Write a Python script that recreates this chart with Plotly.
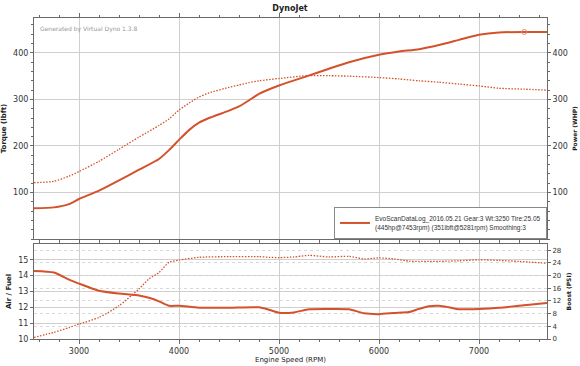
import plotly.graph_objects as go

# ---- Data ----
rpm_pw = [2550, 2750, 2900, 3000, 3200, 3400, 3600, 3800, 3900, 4000, 4100, 4200, 4300,
          4500, 4600, 4700, 4800, 5000, 5281, 5500, 5700, 6000, 6200, 6400, 6600, 6800,
          7000, 7200, 7453, 7680]
power = [66, 68, 75, 86, 104, 126, 149, 172, 191, 213, 234, 250, 260,
         276, 285, 298, 312, 330, 350, 366, 380, 396, 403, 408, 417, 428,
         439, 444, 445, 445]
torque = [121, 124, 135, 145, 167, 193, 219, 244, 258, 277, 292, 305, 314,
          326, 331, 336, 340, 345, 351, 351, 350, 347, 344, 340, 337, 333,
          329, 324, 322, 320]

rpm_lo = [2550, 2750, 2900, 3000, 3200, 3400, 3600, 3700, 3800, 3900, 4000, 4200, 4500,
          4800, 4900, 5000, 5150, 5300, 5500, 5700, 5850, 6000, 6150, 6300, 6400, 6500,
          6600, 6700, 6800, 7000, 7200, 7400, 7680]
afr = [14.3, 14.2, 13.75, 13.5, 13.05, 12.87, 12.75, 12.6, 12.38, 12.1, 12.1, 11.98, 11.98,
       12.0, 11.85, 11.66, 11.68, 11.88, 11.9, 11.88, 11.62, 11.57, 11.64, 11.7, 11.9, 12.07,
       12.1, 12.0, 11.88, 11.9, 11.97, 12.1, 12.28]
boost = [0.5, 2.1, 3.6, 4.7, 6.8, 10.5, 15.8, 19.0, 21.0, 24.2, 24.9, 25.8, 26.0,
         26.0, 25.8, 25.7, 25.9, 26.4, 25.9, 26.1, 25.3, 25.6, 25.3, 24.6, 24.5, 24.5,
         24.5, 24.6, 24.7, 25.0, 24.8, 24.5, 23.9]

peak_rpm = [7453]
peak_hp = [445]

x_ticks = [3000, 4000, 5000, 6000, 7000]
tq_ticks = [100, 200, 300, 400]
afr_ticks = [10, 11, 12, 13, 14, 15]
boost_ticks = [0, 4, 8, 12, 16, 20, 24, 28]

legend_name = ("EvoScanDataLog_2016.05.21 Gear:3 Wt:3250 Tire:25.05<br>"
               "(445hp@7453rpm) (351lbft@5281rpm) Smoothing:3")

RED = "#d4522b"
GRID = "#cfcfcf"
AX = "#6a6a6a"
FONT = "DejaVu Sans"
DOT = "1.5px,1.5px"

fig = go.Figure()

fig.add_trace(go.Scatter(x=rpm_pw, y=power, mode="lines", name=legend_name,
                         line=dict(color=RED, width=2, shape="spline", smoothing=0.6),
                         xaxis="x2", yaxis="y4", showlegend=True))
fig.add_trace(go.Scatter(x=rpm_pw, y=torque, mode="lines", name="Torque",
                         line=dict(color=RED, width=1.3, dash=DOT, shape="spline", smoothing=0.6),
                         xaxis="x2", yaxis="y3", showlegend=False))
fig.add_trace(go.Scatter(x=peak_rpm, y=peak_hp, mode="markers", name="peak",
                         marker=dict(symbol="circle-open", size=5, color="#e08a70", line=dict(width=1)),
                         xaxis="x2", yaxis="y4", showlegend=False))
fig.add_trace(go.Scatter(x=rpm_lo, y=afr, mode="lines", name="AFR",
                         line=dict(color=RED, width=2, shape="spline", smoothing=0.6),
                         xaxis="x", yaxis="y", showlegend=False))
fig.add_trace(go.Scatter(x=rpm_lo, y=boost, mode="lines", name="Boost",
                         line=dict(color=RED, width=1.3, dash=DOT, shape="spline", smoothing=0.6),
                         xaxis="x", yaxis="y2", showlegend=False))

tickfont = dict(family=FONT, size=8, color="#333333")
titlefont = dict(family=FONT, size=7, color="#222222")

common_x = dict(range=[2550, 7680], tickvals=x_ticks, showgrid=True, gridcolor=GRID,
                gridwidth=1, showline=True, linecolor=AX, linewidth=1, mirror="ticks",
                ticks="outside", ticklen=4, tickcolor=AX, zeroline=False, automargin=False,
                minor=dict(dtick=200, ticks="outside", ticklen=2, tickcolor=AX, showgrid=False))

fig.update_layout(
    width=580, height=366,
    margin=dict(l=34, r=33, t=18, b=27),
    paper_bgcolor="white", plot_bgcolor="white",
    font=dict(family=FONT, size=8, color="#333"),
    title=dict(text="<b>DynoJet</b>", x=0.5, xanchor="center", y=0.985, yanchor="top",
               font=dict(family=FONT, size=8, color="#222"), automargin=False),
    xaxis=dict(**common_x, domain=[0, 1], anchor="y", tickfont=tickfont,
               title=dict(text="Engine Speed (RPM)", font=titlefont, standoff=1)),
    xaxis2=dict(**common_x, domain=[0, 1], anchor="y3", matches="x", showticklabels=False),
    yaxis=dict(domain=[0, 0.296], range=[10, 16], tickvals=afr_ticks, showgrid=True,
               gridcolor=GRID, showline=True, linecolor=AX, ticks="outside", ticklen=3,
               tickcolor=AX, zeroline=False, tickfont=tickfont, automargin=False,
               title=dict(text="<b>Air / Fuel</b>", font=titlefont, standoff=5)),
    yaxis2=dict(overlaying="y", side="right", anchor="x", range=[0, 30], tickvals=boost_ticks,
                showgrid=True, gridcolor="#d8d8d8", griddash="dot", showline=True, linecolor=AX,
                ticks="outside", ticklen=3, tickcolor=AX, zeroline=False, automargin=False,
                tickfont=dict(family=FONT, size=7, color="#333"),
                title=dict(text="<b>Boost (PSI)</b>", font=dict(family=FONT, size=6, color="#222"), standoff=5)),
    yaxis3=dict(domain=[0.3115, 1], anchor="x2", range=[0, 475], tickvals=tq_ticks, showgrid=True,
                gridcolor=GRID, showline=True, linecolor=AX, ticks="outside", ticklen=3,
                tickcolor=AX, zeroline=False, tickfont=tickfont, automargin=False,
                minor=dict(dtick=20, ticks="outside", ticklen=2, tickcolor=AX, showgrid=False),
                title=dict(text="<b>Torque (lbft)</b>", font=titlefont, standoff=5)),
    yaxis4=dict(overlaying="y3", side="right", anchor="x2", range=[0, 475], tickvals=tq_ticks,
                showgrid=False, showline=True, linecolor=AX, ticks="outside", ticklen=3,
                tickcolor=AX, zeroline=False, tickfont=tickfont, automargin=False,
                minor=dict(dtick=20, ticks="outside", ticklen=2, tickcolor=AX, showgrid=False),
                title=dict(text="<b>Power (WHP)</b>", font=dict(family=FONT, size=6, color="#222"), standoff=5)),
    legend=dict(x=1, y=0.3115, xanchor="right", yanchor="bottom", xref="paper", yref="paper",
                bgcolor="white", bordercolor="#888", borderwidth=1,
                font=dict(family="Liberation Sans", size=6.5, color="#333"),
                itemwidth=30, tracegroupgap=0),
    showlegend=True,
)

fig.add_annotation(text="Generated by Virtual Dyno 1.3.8", xref="paper", yref="paper",
                   x=0.008, y=0.985, xanchor="left", yanchor="top", showarrow=False,
                   font=dict(family=FONT, size=6, color="#999"))

fig.write_html("out.html", config={"displayModeBar": False},
               post_script="document.body.style.margin='0px';document.body.style.padding='0px';")
